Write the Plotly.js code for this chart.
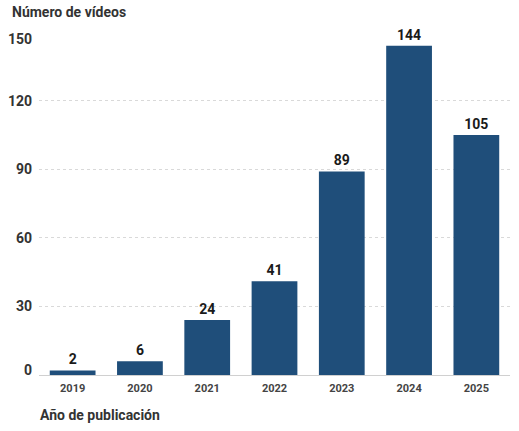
<!DOCTYPE html>
<html>
<head>
<meta charset="utf-8">
<script src="https://cdn.plot.ly/plotly-3.0.1.min.js"></script>
<style>html,body{margin:0;padding:0;background:#fff;}#chart{width:519px;height:431px;}</style>
</head>
<body>
<div id="chart"></div>
<script>
const years = ['2019', '2020', '2021', '2022', '2023', '2024', '2025'];
const videos = [2, 6, 24, 41, 89, 144, 105];
const yTicks = [0, 30, 60, 90, 120, 150];
const midTicks = yTicks.slice(1, -1);
const topTick = [yTicks[yTicks.length - 1]];
const bottomTick = [yTicks[0]];

const tickFont = {family: 'Roboto', size: 14, color: '#333', weight: 700};

const trace = {
  type: 'bar',
  x: years,
  y: videos,
  text: videos.map(String),
  textposition: 'outside',
  cliponaxis: false,
  textfont: {family: 'Roboto', size: 14, color: '#1a1a1a', weight: 700},
  marker: {color: '#1f4e7a'},
  hoverinfo: 'x+y'
};
const ghost2 = {type: 'scatter', x: [], y: [], yaxis: 'y2', hoverinfo: 'skip', showlegend: false};
const ghost3 = {type: 'scatter', x: [], y: [], yaxis: 'y3', hoverinfo: 'skip', showlegend: false};

const sideAxis = (vals, shift) => ({
  overlaying: 'y', side: 'left', range: [0, 150],
  tickvals: vals, ticktext: vals.map(String),
  tickfont: tickFont, showgrid: false, zeroline: false, showline: false,
  ticks: '', ticklabelstandoff: 6, ticklabelshift: shift
});

const layout = {
  width: 519, height: 431,
  margin: {l: 39, r: 9, t: 32, b: 56},
  paper_bgcolor: '#fff', plot_bgcolor: '#fff',
  bargap: 0.32,
  showlegend: false,
  xaxis: {
    type: 'category',
    tickfont: {family: 'Roboto', size: 11, color: '#444', weight: 700},
    showgrid: false, zeroline: false, showline: false,
    ticks: '', ticklabelstandoff: 5
  },
  yaxis: {
    range: [0, 150],
    tickvals: yTicks,
    ticktext: yTicks.map(v => midTicks.includes(v) ? String(v) : ''),
    tickfont: tickFont,
    showgrid: true, gridcolor: '#d9d9d9', griddash: 'dot', gridwidth: 1,
    zeroline: true, zerolinecolor: '#d0d0d0', zerolinewidth: 1,
    showline: false, ticks: '', ticklabelstandoff: 6
  },
  yaxis2: sideAxis(topTick, 7),
  yaxis3: sideAxis(bottomTick, -5),
  annotations: [
    {text: 'Número de vídeos', xref: 'paper', yref: 'paper', x: 0, y: 1, xshift: -29, yshift: 20,
     xanchor: 'left', yanchor: 'middle', showarrow: false,
     font: {family: 'Roboto', size: 14, color: '#333', weight: 700}},
    {text: 'Año de publicación', xref: 'paper', yref: 'paper', x: 0, y: 0, xshift: -1, yshift: -40,
     xanchor: 'left', yanchor: 'middle', showarrow: false,
     font: {family: 'Roboto', size: 14, color: '#333', weight: 700}}
  ]
};

Plotly.newPlot('chart', [trace, ghost2, ghost3], layout, {displayModeBar: false, responsive: false});
</script>
</body>
</html>
